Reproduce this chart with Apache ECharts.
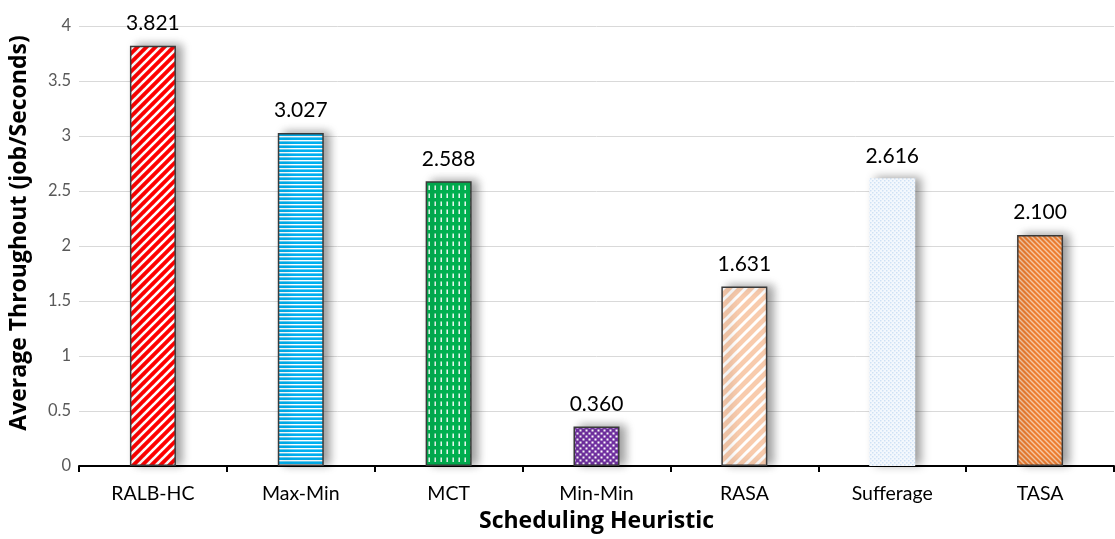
<!DOCTYPE html>
<html>
<head>
<meta charset="utf-8">
<script src="https://cdn.jsdelivr.net/npm/echarts@6/dist/echarts.min.js"></script>
<style>
  html, body { margin: 0; padding: 0; background: #fff; }
  #chart { width: 1115px; height: 539px; }
</style>
</head>
<body>
<div id="chart"></div>
<script>
// Throughput per scheduling heuristic
const categories = ['RALB-HC', 'Max-Min', 'MCT', 'Min-Min', 'RASA', 'Sufferage', 'TASA'];
const throughput = [3.821, 3.027, 2.588, 0.360, 1.631, 2.616, 2.100];
const yTicks = [0, 0.5, 1, 1.5, 2, 2.5, 3, 3.5, 4];

// --- fill pattern tiles ---
function tile(w, h, draw) {
  const c = document.createElement('canvas');
  c.width = w; c.height = h;
  draw(c.getContext('2d'), w, h);
  return { image: c, repeat: 'repeat' };
}
function diagonal(size, bg, fg, lw, rising) {
  return tile(size, size, (g, w, h) => {
    g.fillStyle = bg; g.fillRect(0, 0, w, h);
    g.strokeStyle = fg; g.lineWidth = lw; g.lineCap = 'square';
    for (let k = -1; k <= 1; k++) {
      g.beginPath();
      if (rising) { g.moveTo(k * w, h); g.lineTo(k * w + w, 0); }
      else { g.moveTo(k * w, 0); g.lineTo(k * w + w, h); }
      g.stroke();
    }
  });
}
const fills = [
  diagonal(9, '#ff0000', '#ffffff', 2.6, true),
  tile(4, 4, (g, w, h) => { g.fillStyle = '#00b0f0'; g.fillRect(0, 0, w, h); g.fillStyle = '#ffffff'; g.fillRect(0, 0, w, 1.4); }),
  tile(6, 8, (g, w, h) => { g.fillStyle = '#00b050'; g.fillRect(0, 0, w, h); g.fillStyle = '#ffffff'; g.fillRect(2.5, 1.5, 1.4, 4.5); }),
  tile(6, 6, (g, w, h) => {
    g.fillStyle = '#7030a0'; g.fillRect(0, 0, w, h); g.fillStyle = '#ffffff';
    g.fillRect(0.5, 0.5, 2, 2); g.fillRect(3.5, 3.5, 2, 2);
  }),
  diagonal(11, '#f8cbad', '#ffffff', 3, true),
  tile(4, 4, (g, w, h) => {
    g.fillStyle = '#f4f8fd'; g.fillRect(0, 0, w, h); g.fillStyle = '#cfe1f5';
    g.fillRect(0, 0, 1.5, 1.5); g.fillRect(2, 2, 1.5, 1.5);
  }),
  diagonal(5, '#ed7d31', '#f8c9a4', 1.4, false)
];

const barData = throughput.map((v, i) => ({
  value: v,
  itemStyle: {
    color: fills[i],
    borderColor: i === 5 ? 'transparent' : '#3a3a3a',
    borderWidth: i === 5 ? 0 : 1.5,
    shadowColor: 'rgba(0,0,0,0.38)',
    shadowBlur: 10,
    shadowOffsetX: 6,
    shadowOffsetY: -1
  }
}));

const chart = echarts.init(document.getElementById('chart'), null, { renderer: 'canvas' });
const font = 'Lato, "Open Sans", sans-serif';
const titleFont = '"Open Sans", Lato, sans-serif';
chart.setOption({
  animation: false,
  grid: { left: 78, right: 1, top: 26, bottom: 73 },
  xAxis: {
    type: 'category',
    data: categories,
    name: 'Scheduling Heuristic',
    nameLocation: 'middle',
    nameGap: 44,
    nameTextStyle: { fontFamily: titleFont, fontWeight: 'bold', fontSize: 23, color: '#000' },
    axisLine: { lineStyle: { color: '#000', width: 2 } },
    axisTick: { show: true, length: 6, lineStyle: { color: '#000', width: 2 } },
    axisLabel: { fontFamily: font, fontSize: 19.5, color: '#000', margin: 18 }
  },
  yAxis: {
    type: 'value',
    min: yTicks[0],
    max: yTicks[yTicks.length - 1],
    interval: 0.5,
    name: 'Average Throughout (job/Seconds)',
    nameLocation: 'middle',
    nameGap: 48,
    nameTextStyle: { fontFamily: titleFont, fontWeight: 'bold', fontSize: 23, color: '#000', padding: [0, 0, 0, 26] },
    axisLine: { show: false },
    axisTick: { show: false },
    axisLabel: { fontFamily: font, fontSize: 16.5, color: '#595959', margin: 8 },
    splitLine: { lineStyle: { color: '#d9d9d9', width: 1 } }
  },
  series: [{
    type: 'bar',
    data: barData,
    barWidth: 46,
    label: {
      show: true,
      position: 'top',
      distance: 12,
      fontFamily: font,
      fontSize: 21,
      color: '#000',
      formatter: p => p.value.toFixed(3)
    }
  }]
});
</script>
</body>
</html>
